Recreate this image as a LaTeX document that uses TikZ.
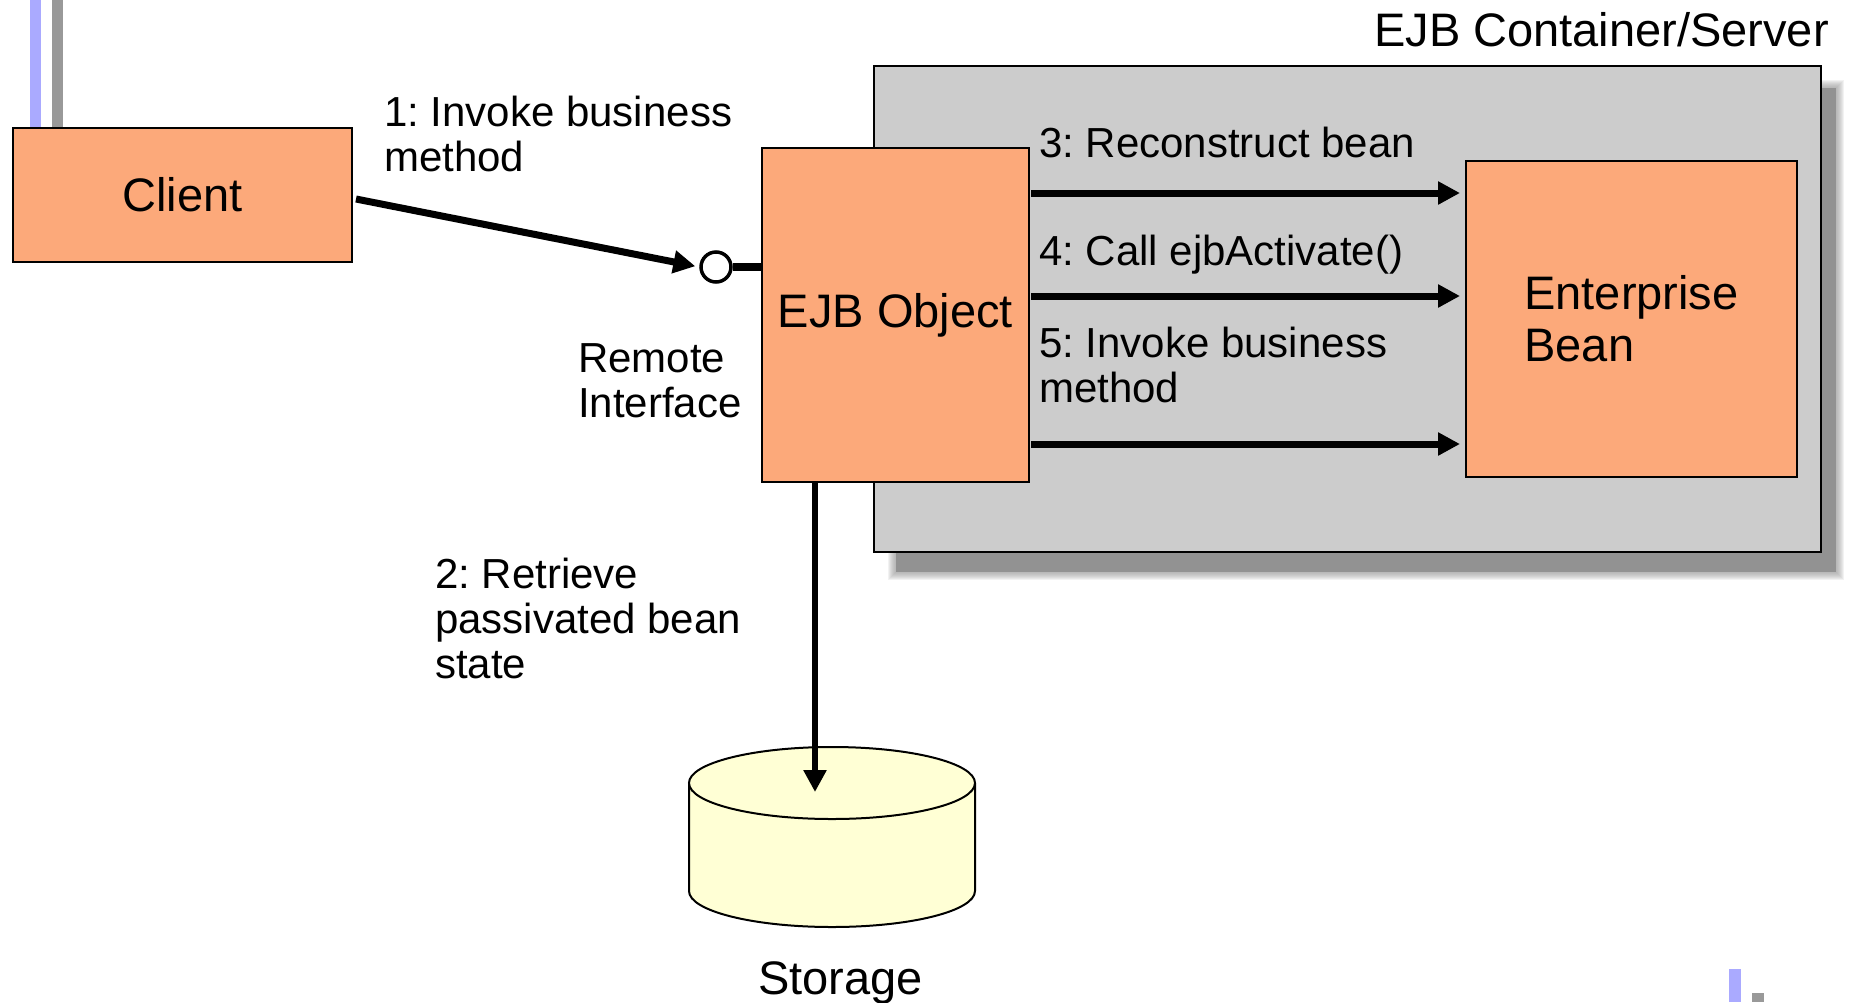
\documentclass[tikz,border=0pt]{standalone}
\usepackage{fontspec}
\setmainfont{Liberation Sans}
\frenchspacing
\usetikzlibrary{arrows.meta}
\definecolor{boxorange}{RGB}{252,169,122}
\definecolor{contgray}{RGB}{204,204,204}
\definecolor{shadowgray}{RGB}{146,146,146}
\definecolor{cylfill}{RGB}{255,255,213}
\definecolor{barblue}{RGB}{170,170,255}
\definecolor{bargray}{RGB}{153,153,153}
\tikzset{
  obox/.style={draw=black, line width=2pt, fill=boxorange, inner sep=0pt, font=\fontsize{47pt}{52pt}\selectfont},
  lbl/.style={anchor=base west, inner sep=0pt, align=left, font=\fontsize{42pt}{45pt}\selectfont},
  biglbl/.style={anchor=base west, inner sep=0pt, font=\fontsize{47pt}{52pt}\selectfont},
  arr/.style={line width=7pt, -{Triangle[length=22pt,width=22pt]}},
}
\begin{document}
\begin{tikzpicture}[x=1pt,y=-1pt]
\useasboundingbox (0,0) rectangle (1858,1002);
% decorative bars
\fill[barblue] (29.5,0) rectangle (40.5,128);
\fill[bargray] (52,0) rectangle (63,128);
\fill[barblue] (1729,969) rectangle (1741,1002);
\fill[bargray] (1752,993) rectangle (1764,1002);
% container shadow
\foreach \i in {1,...,8}
  \fill[shadowgray, opacity=0.12] ({896-\i},{88-\i}) rectangle ({1836+\i},{572+\i});
\fill[shadowgray] (896,88) rectangle (1836,572);
% container
\node[draw=black, line width=2.5pt, fill=contgray, minimum width=947pt, minimum height=486pt, inner sep=0pt] (cont) at (1347.5,309) {};
\node[biglbl] (conttitle) at (1374,46) {EJB Container/Server};
% boxes
\node[obox, minimum width=339pt, minimum height=134pt] (client) at (182.5,195) {Client};
\node[obox, minimum width=267pt, minimum height=334pt] (ejb) at (895.5,315) {EJB Object};
\node[obox, minimum width=331pt, minimum height=316pt, align=left] (bean) at (1631.5,319) {Enterprise\\Bean};
% lollipop interface
\node[circle, draw=black, line width=3.5pt, fill=white, minimum size=30pt, inner sep=0pt] (lolli) at (716,267) {};
\draw[line width=8pt] (lolli.east) -- (lolli.east -| ejb.west);
% storage cylinder
\fill[cylfill] (689,783) -- (689,891) arc[start angle=180, end angle=360, x radius=143pt, y radius=36pt] -- (975,783) -- cycle;
\draw[line width=2pt] (689,783) -- (689,891) arc[start angle=180, end angle=360, x radius=143pt, y radius=36pt] -- (975,783);
\draw[line width=2pt, fill=cylfill] (832,783) ellipse [x radius=143pt, y radius=36pt];
\coordinate (storetip) at (815,792);
\node[biglbl] (storage) at (758,994) {Storage};
% connectors
\draw[arr, shorten >=4pt] ([xshift=3pt, yshift=-4pt]client.east) -- (lolli.west);
\draw[arr, line width=6pt] (ejb.south west -| storetip) -- (storetip);
\coordinate (a3) at (1031,193);
\coordinate (a4) at (1031,296);
\coordinate (a5) at (1031,444);
\draw[arr, shorten >=5pt] (a3) -- (a3 -| bean.west);
\draw[arr, shorten >=5pt] (a4) -- (a4 -| bean.west);
\draw[arr, shorten >=5pt] (a5) -- (a5 -| bean.west);
% labels (base anchor = baseline of the last line)
\node[lbl] (l1) at (384,171) {1: Invoke business\\method};
\node[lbl] (lri) at (578,417) {Remote\\Interface};
\node[lbl] (l2) at (435,678) {2: Retrieve\\passivated bean\\state};
\node[lbl] (l3) at (1039,157) {3: Reconstruct bean};
\node[lbl] (l4) at (1039,265) {4: Call ejbActivate()};
\node[lbl] (l5) at (1039,402) {5: Invoke business\\method};
\end{tikzpicture}
\end{document}
